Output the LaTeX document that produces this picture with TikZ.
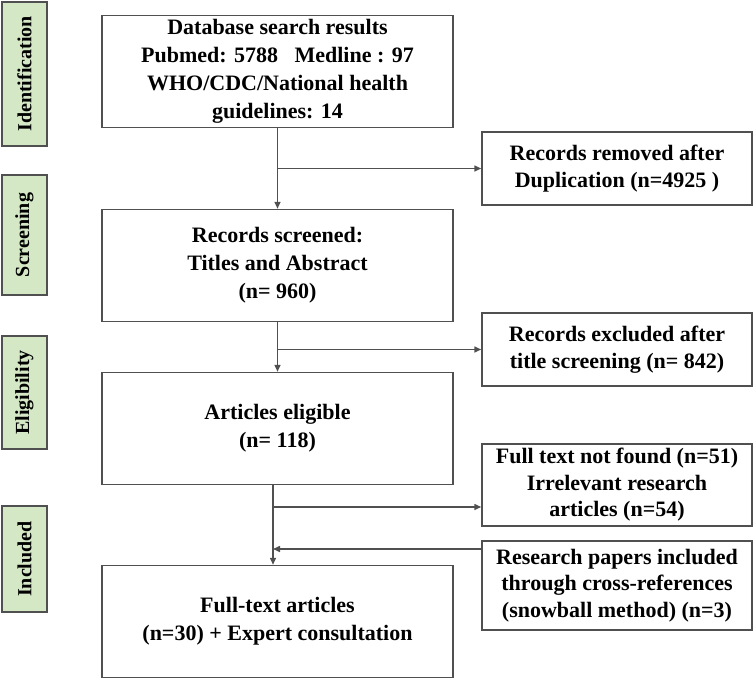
\documentclass[tikz,border=0pt]{standalone}
\usepackage{fontspec}
\setmainfont{Liberation Serif}
\usepackage{tikz}
\usetikzlibrary{arrows.meta}
\definecolor{phasegreen}{HTML}{D5E8C6}
\definecolor{linegray}{HTML}{505050}
\tikzstyle{box_phase} = [draw=linegray, line width=2pt, fill=phasegreen, rotate=90, inner sep=0pt, minimum height=45pt, font=\fontsize{20}{24}\selectfont\bfseries]
\tikzstyle{box_main} = [draw=linegray, line width=1.5pt, inner sep=2pt, minimum width=351pt, minimum height=112pt, align=center, font=\fontsize{22}{28}\selectfont\bfseries]
\tikzstyle{box_side} = [draw=linegray, line width=1.5pt, inner sep=2pt, minimum width=270pt, align=center, font=\fontsize{22}{26.5}\selectfont\bfseries]
\tikzstyle{edge_flow} = [draw=linegray, line width=1.5pt, -{Triangle[length=7pt,width=6pt]}]

\begin{document}
\begin{tikzpicture}[x=1pt, y=-1pt]
			\useasboundingbox (0,0) rectangle (753,680);
			% phases
			\node (P1) at (24.5,74) [box_phase, minimum width=144pt] {Identification};
			\node (P2) at (24.5,235) [box_phase, minimum width=120pt] {Screening};
			\node (P3) at (24.5,392.5) [box_phase, minimum width=113pt] {Eligibility};
			\node (P4) at (24.5,559) [box_phase, minimum width=106pt] {Included};
			
			% main column
			\node (B1) at (277.5,71.5) [box_main] {Database search results\\Pubmed: 5788~~~Medline : 97\\WHO/CDC/National~health\\guidelines: 14};
			\node (B2) at (277.5,265.5) [box_main] {Records screened:\\Titles and Abstract\\(n= 960)};
			\node (B3) at (277.5,428.5) [box_main] {Articles eligible\\(n= 118)};
			\node (B4) at (277.5,621.5) [box_main] {Full-text articles\\(n=30) + Expert consultation};
			
			% side column
			\node (R1) at (617,168.5) [box_side, minimum height=73pt] {Records removed after\\Duplication~(n=4925 )};
			\node (R2) at (617,349.5) [box_side, minimum height=73pt] {Records excluded after\\title screening (n= 842)};
			\node (R3) at (617,485) [box_side, minimum height=82pt] {Full text not found (n=51)\\Irrelevant research\\articles (n=54)};
			\node (R4) at (617,585.5) [box_side, minimum height=89pt] {Research papers included\\through cross-references\\(snowball~method) (n=3)};
			
			\coordinate (J1) at (277.5,168.5);
			\coordinate (J2) at (277.5,349.5);
			\coordinate (J3) at (273,507);
			\coordinate (J4) at (273,549);
			
			\draw[edge_flow] (B1.south) -- (B2.north);
			\draw[edge_flow] (B2.south) -- (B3.north);
			\draw[edge_flow] ([xshift=-4.5pt]B3.south) -- ([xshift=-4.5pt]B4.north);
			\draw[edge_flow] (J1) -- (R1.west);
			\draw[edge_flow] (J2) -- (R2.west);
			\draw[edge_flow] (J3) -- (J3 -| R3.west);
			\draw[edge_flow] (J4 -| R4.west) -- (J4);
		\end{tikzpicture}
\end{document}
